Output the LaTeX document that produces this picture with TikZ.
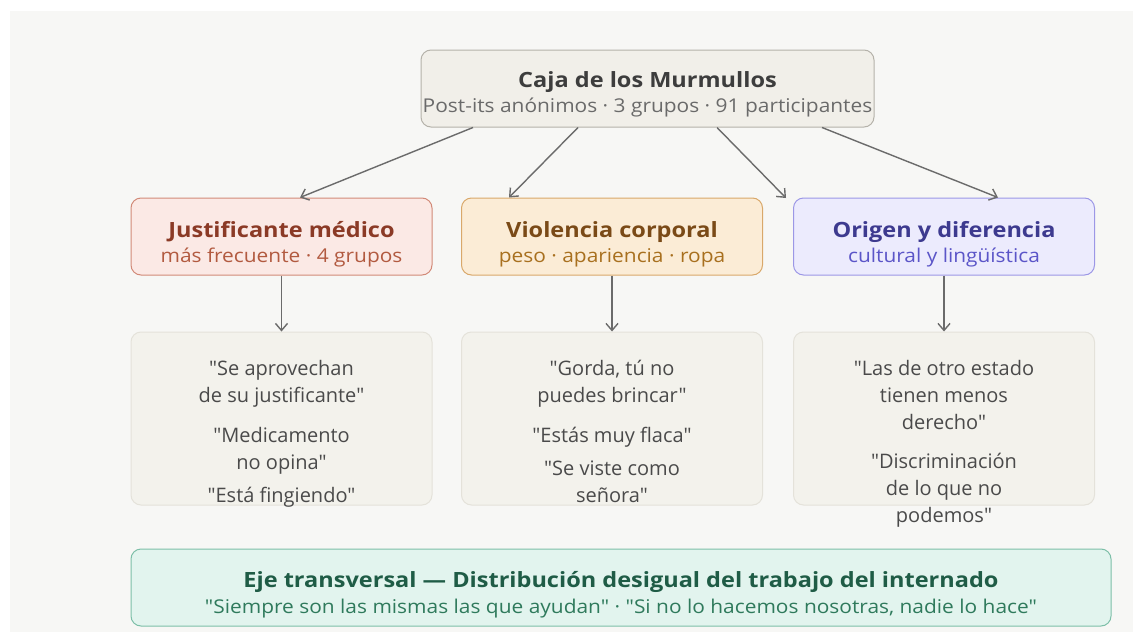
\documentclass[tikz,border=0pt]{standalone}
\usepackage{fontspec}
\setmainfont{Open Sans}
\newfontfamily\titlef{Open Sans}[FakeStretch=1.12]
\newfontfamily\subf{Open Sans}[FakeStretch=1.1]
\newfontfamily\quotef{Open Sans}
\usetikzlibrary{arrows.meta,positioning,calc}
\definecolor{bgc}{HTML}{F7F7F5}
\definecolor{topfill}{HTML}{F1EFE9}
\definecolor{topdraw}{HTML}{B5B2AA}
\definecolor{toptitle}{HTML}{3D3D3D}
\definecolor{topsub}{HTML}{6A6A6A}
\definecolor{afill}{HTML}{FBE9E5}
\definecolor{adraw}{HTML}{D28A78}
\definecolor{atitle}{HTML}{8B3A26}
\definecolor{asub}{HTML}{B25A40}
\definecolor{bfill}{HTML}{FBECD6}
\definecolor{bdraw}{HTML}{D9A86A}
\definecolor{btitle}{HTML}{7A4A17}
\definecolor{bsub}{HTML}{A8701F}
\definecolor{cfill}{HTML}{ECEBFD}
\definecolor{cdraw}{HTML}{9C97E6}
\definecolor{ctitle}{HTML}{3D3A8F}
\definecolor{csub}{HTML}{5B55C8}
\definecolor{qfill}{HTML}{F3F2EC}
\definecolor{qdraw}{HTML}{E4E2DA}
\definecolor{qtext}{HTML}{4A4A4A}
\definecolor{gfill}{HTML}{E2F4EE}
\definecolor{gdraw}{HTML}{7DBFA8}
\definecolor{gtitle}{HTML}{1F5C46}
\definecolor{gsub}{HTML}{2F7A5C}
\definecolor{arrowc}{HTML}{6B6B6B}
\tikzset{
  box/.style={rounded corners=10pt, line width=1pt, inner sep=0pt},
  catbox/.style={box, minimum width=301pt, minimum height=77pt},
  quotebox/.style={box, fill=qfill, draw=qdraw, minimum width=301pt, minimum height=173pt},
  titlefont/.style={font=\titlef\fontsize{21}{24}\selectfont\bfseries},
  subfont/.style={font=\subf\fontsize{19}{20}\selectfont},
  quotetext/.style={align=center, text=qtext, font=\quotef\fontsize{20}{27}\selectfont, anchor=north, inner sep=0pt},
  link/.style={draw=arrowc, line width=1.4pt, -{Straight Barb[length=7pt,width=12pt,line width=1.4pt]}},
}
\begin{document}
\begin{tikzpicture}[x=1pt,y=-1pt]
\useasboundingbox (0,0) rectangle (1133,632);
\fill[white] (0,0) rectangle (1133,632);
\fill[bgc] (10,11) rectangle (1133,632);

\node[box, fill=topfill, draw=topdraw, minimum width=453pt, minimum height=77pt] (top) at (647.5,88.5) {};
\node[text=toptitle, titlefont] (toptitle) at (647.5,82) {Caja de los Murmullos};
\node[text=topsub, subfont] (topsub) at (647.5,108) {Post-its anónimos · 3 grupos · 91 participantes};

\node[catbox, fill=afill, draw=adraw] (ca) at (281.5,236.5) {};
\node[text=atitle, titlefont] (cat) at (281.5,232) {Justificante médico};
\node[text=asub, subfont] (cas) at (281.5,258) {más frecuente · 4 grupos};

\node[catbox, fill=bfill, draw=bdraw] (cb) at (612,236.5) {};
\node[text=btitle, titlefont] (cbt) at (612,232) {Violencia corporal};
\node[text=bsub, subfont] (cbs) at (612,258) {peso · apariencia · ropa};

\node[catbox, fill=cfill, draw=cdraw] (cc) at (944,236.5) {};
\node[text=ctitle, titlefont] (cct) at (944,232) {Origen y diferencia};
\node[text=csub, subfont] (ccs) at (944,258) {cultural y lingüística};

\node[quotebox] (qa) at (281.5,418.5) {};
\node[quotebox] (qb) at (612,418.5) {};
\node[quotebox] (qc) at (944,418.5) {};

\node[quotetext] (qat) at (281.5,360) {"Se aprovechan\\de su justificante"\\[13pt]"Medicamento\\no opina"\\[6pt]"Está fingiendo"};
\node[quotetext] (qbt) at (612,360) {"Gorda, tú no\\puedes brincar"\\[13pt]"Estás muy flaca"\\[6pt]"Se viste como\\señora"};
\node[quotetext] (qct) at (944,360) {"Las de otro estado\\tienen menos\\derecho"\\[12pt]"Discriminación\\de lo que no\\podemos"};

\node[box, fill=gfill, draw=gdraw, minimum width=980pt, minimum height=77pt] (eje) at (621,587.5) {};
\node[text=gtitle, titlefont] (ejet) at (621,582) {Eje transversal — Distribución desigual del trabajo del internado};
\node[text=gsub, subfont] (ejes) at (621,609) {"Siempre son las mismas las que ayudan" · "Si no lo hacemos nosotras, nadie lo hace"};

\coordinate (free) at (786,198);
\draw[link] ([xshift=-174.5pt]top.south) -- ([xshift=18.5pt]ca.north);
\draw[link] ([xshift=-69.5pt]top.south) -- ([xshift=-103pt]cb.north);
\draw[link] ([xshift=69.5pt]top.south) -- (free);
\draw[link] ([xshift=174.5pt]top.south) -- ([xshift=54pt]cc.north);

\draw[link] (ca.south) -- (qa.north);
\draw[link] (cb.south) -- (qb.north);
\draw[link] (cc.south) -- (qc.north);
\end{tikzpicture}
\end{document}
